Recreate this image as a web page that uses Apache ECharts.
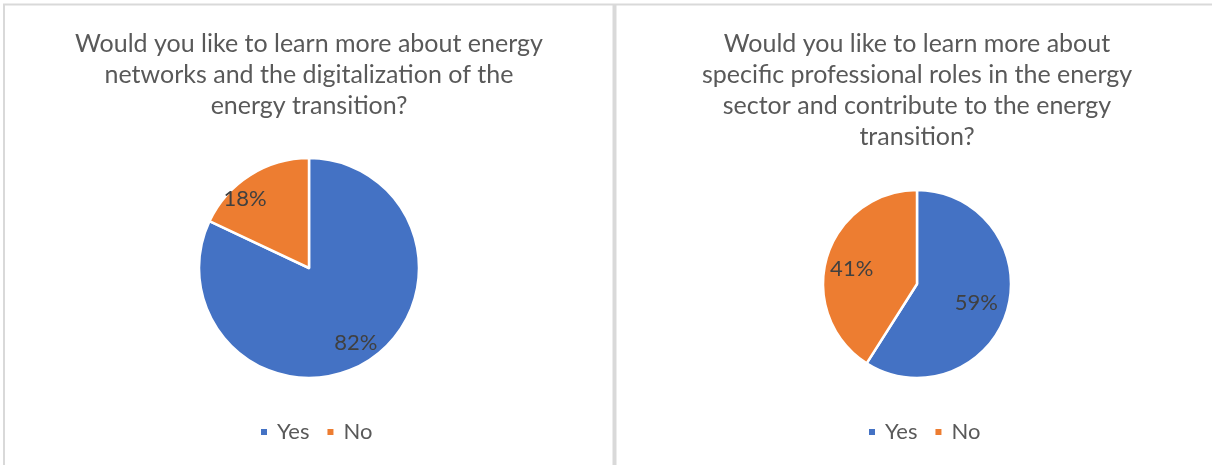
<!DOCTYPE html>
<html>
<head>
<meta charset="utf-8">
<script src="https://cdn.jsdelivr.net/npm/echarts@6/dist/echarts.min.js"></script>
<style>
  html, body { margin: 0; padding: 0; background: #ffffff; }
  #chart { width: 1212px; height: 465px; }
</style>
</head>
<body>
<div id="chart"></div>
<script>
// Survey answers, one pie per question
const categories = ['Yes', 'No'];
const networksValues = [82, 18];
const rolesValues = [59, 41];
const networksTitle = 'Would you like to learn more about energy\nnetworks and the digitalization of the\nenergy transition?';
const rolesTitle = 'Would you like to learn more about\nspecific professional roles in the energy\nsector and contribute to the energy\ntransition?';

const COLORS = ['#4472C4', '#ED7D31'];
const FONT = 'Lato';
const BORDER = '#D9D9D9';

// Small nudges for labels that sit off the slice bisector
const labelNudge = {
  networks: { Yes: [-3, -4], No: [-14, 9] },
  roles: { Yes: [-6, 0], No: [0, 4] }
};

function pieData(values) {
  return categories.map((name, i) => ({ name, value: values[i], itemStyle: { color: COLORS[i] } }));
}

// Solid pie plus a transparent twin whose larger radius puts the
// "inside" labels out near the rim of the visible pie.
function pieSeries(values, center, radius, labelRadius, nudge) {
  return [
    {
      type: 'pie',
      center: center,
      radius: [0, radius],
      startAngle: 90,
      clockwise: true,
      silent: true,
      animation: false,
      itemStyle: { borderColor: '#ffffff', borderWidth: 2.5 },
      label: { show: false },
      labelLine: { show: false },
      data: pieData(values)
    },
    {
      type: 'pie',
      center: center,
      radius: [0, labelRadius],
      startAngle: 90,
      clockwise: true,
      silent: true,
      animation: false,
      itemStyle: { color: 'rgba(0,0,0,0)', borderWidth: 0 },
      label: {
        show: true,
        position: 'inside',
        formatter: '{c}%',
        color: '#404040',
        fontFamily: FONT,
        fontSize: 22
      },
      labelLine: { show: false },
      data: categories.map((name, i) => ({
        name,
        value: values[i],
        label: { offset: nudge[name] }
      }))
    }
  ];
}

function titleAt(text, x) {
  return {
    text: text,
    left: x,
    top: 28,
    padding: 0,
    textAlign: 'center',
    textStyle: {
      fontFamily: FONT,
      fontSize: 25,
      fontWeight: 'normal',
      color: '#595959',
      lineHeight: 31
    }
  };
}

function legendAt(x) {
  return {
    left: x,
    top: 421,
    padding: 0,
    orient: 'horizontal',
    icon: 'rect',
    itemWidth: 8,
    itemHeight: 8,
    itemGap: 16,
    selectedMode: false,
    textStyle: { fontFamily: FONT, fontSize: 22, color: '#595959', padding: [0, 0, 0, 4] },
    data: categories.map((name, i) => ({ name, itemStyle: { color: COLORS[i] } }))
  };
}

const chart = echarts.init(document.getElementById('chart'), null, { renderer: 'canvas' });
chart.setOption({
  backgroundColor: '#ffffff',
  animation: false,
  title: [titleAt(networksTitle, 309), titleAt(rolesTitle, 917)],
  legend: [legendAt(259), legendAt(867)],
  graphic: [
    { type: 'line', shape: { x1: 3, y1: 4.5, x2: 1212, y2: 4.5 }, style: { stroke: BORDER, lineWidth: 2 } },
    { type: 'line', shape: { x1: 4, y1: 4, x2: 4, y2: 465 }, style: { stroke: BORDER, lineWidth: 2 } },
    { type: 'line', shape: { x1: 614.5, y1: 4, x2: 614.5, y2: 465 }, style: { stroke: BORDER, lineWidth: 4 } }
  ],
  series: [
    ...pieSeries(networksValues, [309, 268], 110, 180, labelNudge.networks),
    ...pieSeries(rolesValues, [917, 284], 94, 130, labelNudge.roles)
  ]
});
</script>
</body>
</html>
